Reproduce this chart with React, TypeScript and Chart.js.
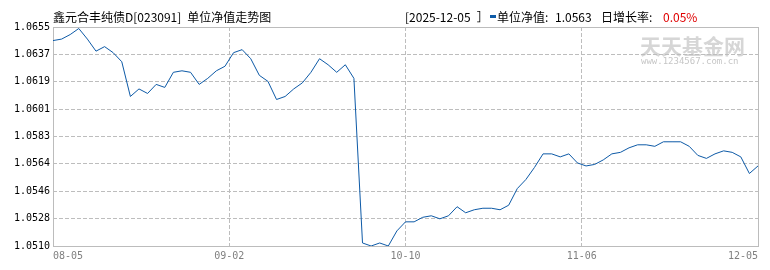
import React, { useEffect, useRef } from "react";
import { Chart, registerables } from "chart.js";

Chart.register(...registerables);

// ---- data ----
const X_LABELS = ["08-05", "09-02", "10-10", "11-06", "12-05"];
const NAV = [
  1.0646, 1.0647, 1.0650, 1.0654, 1.0647, 1.0639, 1.0642, 1.0638, 1.0632, 1.0609,
  1.0614, 1.0611, 1.0617, 1.0615, 1.0625, 1.0626, 1.0625, 1.0617, 1.0621, 1.0626,
  1.0629, 1.0638, 1.0640, 1.0634, 1.0623, 1.0619, 1.0607, 1.0609, 1.0614, 1.0618,
  1.0625, 1.0634, 1.0630, 1.0625, 1.0630, 1.0621, 1.0512, 1.0510, 1.0512, 1.0510,
  1.0520, 1.0526, 1.0526, 1.0529, 1.0530, 1.0528, 1.0530, 1.0536, 1.0532, 1.0534,
  1.0535, 1.0535, 1.0534, 1.0537, 1.0548, 1.0554, 1.0562, 1.0571, 1.0571, 1.0569,
  1.0571, 1.0565, 1.0563, 1.0564, 1.0567, 1.0571, 1.0572, 1.0575, 1.0577, 1.0577,
  1.0576, 1.0579, 1.0579, 1.0579, 1.0576, 1.0570, 1.0568, 1.0571, 1.0573, 1.0572,
  1.0569, 1.0558, 1.0563,
];
const Y_MIN = 1.051;
const Y_MAX = 1.0655;
const Y_TICK_LABELS = [
  "1.0510", "1.0528", "1.0546", "1.0564", "1.0583", "1.0601", "1.0619", "1.0637", "1.0655",
];

const TITLE = "鑫元合丰纯债D[023091]\u2002单位净值走势图";
const HDR_DATE = "[2025-12-05\u2002］";
const HDR_NAV_LABEL = "单位净值:";
const HDR_NAV_VALUE = "1.0563";
const HDR_RATE_LABEL = "日增长率:";
const HDR_RATE_VALUE = "0.05%";
const WATERMARK = "天天基金网";
const WATERMARK_URL = "www.1234567.com.cn";

const LINE_COLOR = "#0d5aa7";
const GRID_COLOR = "#bdbdbd";
const CJK = "'Noto Sans CJK SC', sans-serif";
const MONO = "'DejaVu Sans Mono', monospace";

const decorPlugin = {
  id: "decor",
  beforeDraw(chart: any) {
    const { ctx } = chart;
    ctx.save();
    ctx.fillStyle = "#ffffff";
    ctx.fillRect(0, 0, chart.width, chart.height);
    ctx.textAlign = "left";
    ctx.textBaseline = "middle";
    ctx.fillStyle = "#d6d6d6";
    ctx.font = `bold 21px ${CJK}`;
    ctx.fillText(WATERMARK, 640, 46);
    ctx.fillStyle = "#c6c6c6";
    ctx.font = `9px ${MONO}`;
    ctx.fillText(WATERMARK_URL, 641, 62);
    ctx.restore();
  },
  beforeDatasetsDraw(chart: any) {
    const { ctx, chartArea } = chart;
    ctx.save();
    ctx.strokeStyle = "#bcbcbc";
    ctx.lineWidth = 1;
    ctx.strokeRect(
      chartArea.left + 0.5,
      chartArea.top + 0.5,
      chartArea.right - chartArea.left,
      chartArea.bottom - chartArea.top
    );
    ctx.restore();
  },
  afterDraw(chart: any) {
    const { ctx } = chart;
    ctx.save();
    ctx.textAlign = "left";
    ctx.textBaseline = "middle";
    ctx.font = `12px ${CJK}`;
    ctx.fillStyle = "#000000";
    ctx.fillText(TITLE, 53, 17.5);
    ctx.fillText(HDR_DATE, 405, 17.5);
    ctx.fillStyle = LINE_COLOR;
    ctx.fillRect(490, 15, 6, 3);
    ctx.fillStyle = "#000000";
    ctx.fillText(HDR_NAV_LABEL, 497, 17.5);
    ctx.fillText(HDR_NAV_VALUE, 555, 17.5);
    ctx.fillText(HDR_RATE_LABEL, 601, 17.5);
    ctx.fillStyle = "#e00000";
    ctx.fillText(HDR_RATE_VALUE, 663, 17.5);
    ctx.restore();
  },
};

export default function App() {
  const ref = useRef<HTMLCanvasElement | null>(null);

  useEffect(() => {
    document.body.style.margin = "0";
    const canvas = ref.current;
    if (!canvas) return;
    const n = NAV.length;
    const xTickPos = X_LABELS.map((_, k) => ((n - 1) * k) / (X_LABELS.length - 1));
    const yStep = (Y_MAX - Y_MIN) / (Y_TICK_LABELS.length - 1);
    const yTickPos = Y_TICK_LABELS.map((_, k) => Y_MIN + yStep * k);

    const chart = new Chart(canvas, {
      type: "line",
      data: {
        datasets: [
          {
            label: "单位净值",
            data: NAV.map((v, i) => ({ x: i, y: v })),
            borderColor: LINE_COLOR,
            borderWidth: 1,
            pointRadius: 0,
            tension: 0,
            fill: false,
          },
        ],
      },
      options: {
        animation: false,
        responsive: false,
        devicePixelRatio: 1,
        layout: { padding: { top: 27, right: 12, left: 0, bottom: 0 } },
        plugins: { legend: { display: false }, tooltip: { enabled: false }, title: { display: false } },
        scales: {
          x: {
            type: "linear",
            min: 0,
            max: n - 1,
            afterBuildTicks: (s: any) => {
              s.ticks = xTickPos.map((v) => ({ value: v }));
            },
            afterFit: (s: any) => {
              s.height = 24;
            },
            ticks: {
              autoSkip: false,
              maxRotation: 0,
              align: "inner",
              padding: 4,
              color: "#808080",
              font: { family: MONO, size: 10 },
              callback: (_v: any, i: number) => X_LABELS[i],
            },
            grid: { color: GRID_COLOR, drawTicks: false, lineWidth: 1 },
            border: { display: false, dash: [4, 2] },
          },
          y: {
            type: "linear",
            min: Y_MIN,
            max: Y_MAX,
            afterBuildTicks: (s: any) => {
              s.ticks = yTickPos.map((v) => ({ value: v }));
            },
            afterFit: (s: any) => {
              s.width = 53;
            },
            ticks: {
              autoSkip: false,
              padding: 3,
              color: "#000000",
              font: { family: MONO, size: 10 },
              callback: (_v: any, i: number) => Y_TICK_LABELS[i],
            },
            grid: { color: GRID_COLOR, drawTicks: false, lineWidth: 1 },
            border: { display: false, dash: [4, 2] },
          },
        },
      },
      plugins: [decorPlugin],
    } as any);

    return () => chart.destroy();
  }, []);

  return <canvas ref={ref} width={770} height={270} style={{ display: "block" }} />;
}
